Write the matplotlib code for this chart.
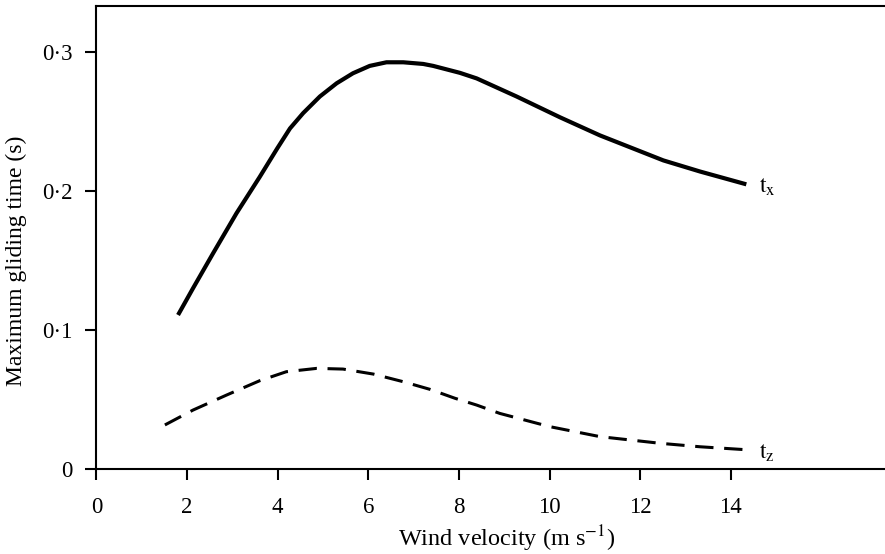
import matplotlib
matplotlib.use('Agg')
from matplotlib import pyplot as plt

# values
tx_speed = [1.80, 2.13, 2.57, 3.09, 3.60, 3.99, 4.27, 4.56, 4.93, 5.30, 5.66, 6.03, 6.40,
            6.77, 7.21, 7.43, 8.02, 8.39, 9.27, 10.23, 11.11, 12.51, 13.32, 14.34]
tx_time = [0.1108, 0.130, 0.155, 0.184, 0.210, 0.2307, 0.245, 0.256, 0.268, 0.2775, 0.2847,
           0.290, 0.2926, 0.2926, 0.2914, 0.290, 0.285, 0.281, 0.268, 0.253, 0.240, 0.222,
           0.214, 0.2048]

tz_speed = [1.51, 2.13, 2.87, 3.60, 4.19, 4.86, 5.44, 6.11, 6.77, 7.36, 7.91, 8.39, 8.90,
            10.0, 11.11, 12.44, 13.32, 14.42]
tz_time = [0.0317, 0.0424, 0.0532, 0.0635, 0.070, 0.0724, 0.0719, 0.0683, 0.0628, 0.0573,
           0.0509, 0.046, 0.040, 0.0305, 0.0233, 0.0185, 0.016, 0.0137]

xticks = [0, 2, 4, 6, 8, 10, 12, 14]
yticks = [0, 0.1, 0.2, 0.3]
ylabels = ['0', '0·1', '0·2', '0·3']

plt.rcParams['font.family'] = 'Liberation Serif'
plt.rcParams['mathtext.fontset'] = 'stix'

fig = plt.figure(figsize=(8.85, 5.54), dpi=100)
ax = fig.add_axes([0.109, 0.1534, 0.891, 0.8363])

ax.plot(tx_speed, tx_time, color='k', lw=3.0, solid_capstyle='butt', solid_joinstyle='round')
ax.plot(tz_speed, tz_time, color='k', lw=2.2, dashes=(6, 3.5))

ax.text(14.62, tx_time[-1] - 0.002, r'$\mathrm{t_x}$', fontsize=17, va='center', ha='left')
ax.text(14.62, tz_time[-1] - 0.002, r'$\mathrm{t_z}$', fontsize=17, va='center', ha='left')

ax.set_xlim(0, 17.4)
ax.set_ylim(0, 0.3333)
ax.set_xticks(xticks)
ax.set_yticks(yticks)
ax.set_yticklabels(ylabels)

ax.spines['right'].set_visible(False)
for s in ['left', 'top', 'bottom']:
    ax.spines[s].set_linewidth(1.5)
ax.tick_params(axis='both', direction='out', length=8, width=1.5, labelsize=16.5)
ax.tick_params(axis='x', pad=12)
ax.tick_params(axis='y', pad=9)

ax.set_xlabel('Wind velocity (m s$^{-1}$)', fontsize=17.5)
ax.set_ylabel('Maximum gliding time (s)', fontsize=17)
ax.xaxis.set_label_coords(0.5205, -0.1166)
ax.yaxis.set_label_coords(-0.0885, 0.449)

fig.savefig('out.png', dpi=100)
